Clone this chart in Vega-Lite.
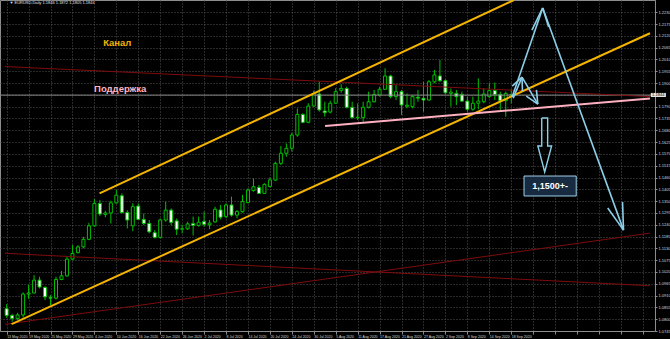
{
  "$schema": "https://vega.github.io/schema/vega-lite/v6.json",
  "width": 655,
  "height": 331,
  "autosize": "none",
  "padding": {"left": 0, "top": 0, "right": 15, "bottom": 8},
  "background": "#000000",
  "config": {
    "view": {"stroke": "#8c8c8c", "strokeWidth": 1},
    "axis": {"labelFont": "Liberation Sans", "title": null, "labelOverlap": false, "labelBound": false, "labelFlush": false,
             "grid": true, "gridColor": "#555555", "gridDash": [1, 2], "gridWidth": 1, "tickCount": 60,
             "domainColor": "#8c8c8c", "tickColor": "#8c8c8c", "labelColor": "#d8d8d8", "labelFontSize": 4},
    "axisX": {"tickSize": 3, "labelAlign": "left", "labelPadding": 0, "labelFontSize": 3.5},
    "axisY": {"tickSize": 2, "labelPadding": 1}
  },
  "datasets": {
    "candles": [
      {"x":0,"o":1.0849,"h":1.0870,"l":1.0806,"c":1.0817},
      {"x":1,"o":1.0817,"h":1.0825,"l":1.0788,"c":1.0803},
      {"x":2,"o":1.0803,"h":1.0830,"l":1.0796,"c":1.0820},
      {"x":3,"o":1.0820,"h":1.0925,"l":1.0808,"c":1.0917},
      {"x":4,"o":1.0917,"h":1.0960,"l":1.0895,"c":1.0922},
      {"x":5,"o":1.0922,"h":1.1005,"l":1.0920,"c":1.0982},
      {"x":6,"o":1.0982,"h":1.0998,"l":1.0943,"c":1.0950},
      {"x":7,"o":1.0948,"h":1.0954,"l":1.0889,"c":1.0904},
      {"x":8,"o":1.0901,"h":1.0912,"l":1.0865,"c":1.0898},
      {"x":9,"o":1.0898,"h":1.0998,"l":1.0892,"c":1.0985},
      {"x":10,"o":1.0985,"h":1.1025,"l":1.0982,"c":1.1002},
      {"x":11,"o":1.1002,"h":1.1094,"l":1.0998,"c":1.1080},
      {"x":12,"o":1.1080,"h":1.1145,"l":1.1075,"c":1.1106},
      {"x":13,"o":1.1110,"h":1.1145,"l":1.1106,"c":1.1137},
      {"x":14,"o":1.1137,"h":1.1184,"l":1.1130,"c":1.1172},
      {"x":15,"o":1.1172,"h":1.1249,"l":1.1168,"c":1.1235},
      {"x":16,"o":1.1235,"h":1.1359,"l":1.1230,"c":1.1339},
      {"x":17,"o":1.1339,"h":1.1355,"l":1.1280,"c":1.1290},
      {"x":18,"o":1.1288,"h":1.1305,"l":1.1275,"c":1.1295},
      {"x":19,"o":1.1295,"h":1.1352,"l":1.1246,"c":1.1342},
      {"x":20,"o":1.1342,"h":1.1401,"l":1.1338,"c":1.1378},
      {"x":21,"o":1.1375,"h":1.1386,"l":1.1292,"c":1.1297},
      {"x":22,"o":1.1297,"h":1.1308,"l":1.1223,"c":1.1262},
      {"x":23,"o":1.1235,"h":1.1340,"l":1.1210,"c":1.1324},
      {"x":24,"o":1.1327,"h":1.1339,"l":1.1262,"c":1.1265},
      {"x":25,"o":1.1265,"h":1.1292,"l":1.1238,"c":1.1246},
      {"x":26,"o":1.1246,"h":1.1262,"l":1.1200,"c":1.1207},
      {"x":27,"o":1.1203,"h":1.1215,"l":1.1176,"c":1.1181},
      {"x":28,"o":1.1181,"h":1.1269,"l":1.1176,"c":1.1262},
      {"x":29,"o":1.1262,"h":1.1347,"l":1.1254,"c":1.1308},
      {"x":30,"o":1.1308,"h":1.1316,"l":1.1238,"c":1.1251},
      {"x":31,"o":1.1258,"h":1.1269,"l":1.1192,"c":1.1219},
      {"x":32,"o":1.1220,"h":1.1240,"l":1.1200,"c":1.1221},
      {"x":33,"o":1.1221,"h":1.1254,"l":1.1216,"c":1.1244},
      {"x":34,"o":1.1245,"h":1.1278,"l":1.1190,"c":1.1237},
      {"x":35,"o":1.1237,"h":1.1278,"l":1.1231,"c":1.1252},
      {"x":36,"o":1.1255,"h":1.1301,"l":1.1231,"c":1.1242},
      {"x":37,"o":1.1240,"h":1.1262,"l":1.1219,"c":1.1248},
      {"x":38,"o":1.1253,"h":1.1324,"l":1.1250,"c":1.1312},
      {"x":39,"o":1.1309,"h":1.1332,"l":1.1265,"c":1.1275},
      {"x":40,"o":1.1278,"h":1.1340,"l":1.1270,"c":1.1332},
      {"x":41,"o":1.1332,"h":1.1371,"l":1.1278,"c":1.1285},
      {"x":42,"o":1.1285,"h":1.1309,"l":1.1270,"c":1.1301},
      {"x":43,"o":1.1301,"h":1.1379,"l":1.1296,"c":1.1348},
      {"x":44,"o":1.1343,"h":1.1410,"l":1.1340,"c":1.1402},
      {"x":45,"o":1.1399,"h":1.1456,"l":1.1394,"c":1.1417},
      {"x":46,"o":1.1414,"h":1.1425,"l":1.1383,"c":1.1386},
      {"x":47,"o":1.1386,"h":1.1433,"l":1.1383,"c":1.1428},
      {"x":48,"o":1.1418,"h":1.1461,"l":1.1414,"c":1.1449},
      {"x":49,"o":1.1448,"h":1.1534,"l":1.1445,"c":1.1526},
      {"x":50,"o":1.1526,"h":1.1607,"l":1.1518,"c":1.1573},
      {"x":51,"o":1.1573,"h":1.1619,"l":1.1557,"c":1.1596},
      {"x":52,"o":1.1596,"h":1.1669,"l":1.1581,"c":1.1658},
      {"x":53,"o":1.1658,"h":1.1782,"l":1.1650,"c":1.1754},
      {"x":54,"o":1.1754,"h":1.1759,"l":1.1713,"c":1.1717},
      {"x":55,"o":1.1717,"h":1.1806,"l":1.1713,"c":1.1793},
      {"x":56,"o":1.1793,"h":1.1865,"l":1.1790,"c":1.1852},
      {"x":57,"o":1.1849,"h":1.1907,"l":1.1767,"c":1.1775},
      {"x":58,"o":1.1770,"h":1.1813,"l":1.1744,"c":1.1762},
      {"x":59,"o":1.1765,"h":1.1818,"l":1.1759,"c":1.1806},
      {"x":60,"o":1.1806,"h":1.1876,"l":1.1803,"c":1.1860},
      {"x":61,"o":1.1866,"h":1.1895,"l":1.1855,"c":1.1875},
      {"x":62,"o":1.1875,"h":1.1883,"l":1.1782,"c":1.1787},
      {"x":63,"o":1.1787,"h":1.1813,"l":1.1736,"c":1.1739},
      {"x":64,"o":1.1738,"h":1.1805,"l":1.1728,"c":1.1741},
      {"x":65,"o":1.1739,"h":1.1813,"l":1.1720,"c":1.1787},
      {"x":66,"o":1.1787,"h":1.1860,"l":1.1782,"c":1.1813},
      {"x":67,"o":1.1813,"h":1.1868,"l":1.1809,"c":1.1847},
      {"x":68,"o":1.1844,"h":1.1883,"l":1.1837,"c":1.1871},
      {"x":69,"o":1.1871,"h":1.1969,"l":1.1868,"c":1.1933},
      {"x":70,"o":1.1933,"h":1.1938,"l":1.1829,"c":1.1837},
      {"x":71,"o":1.1837,"h":1.1891,"l":1.1821,"c":1.1860},
      {"x":72,"o":1.1860,"h":1.1868,"l":1.1751,"c":1.1798},
      {"x":73,"o":1.1792,"h":1.1852,"l":1.1782,"c":1.1797},
      {"x":74,"o":1.1790,"h":1.1844,"l":1.1782,"c":1.1837},
      {"x":75,"o":1.1834,"h":1.1868,"l":1.1813,"c":1.1830},
      {"x":76,"o":1.1829,"h":1.1906,"l":1.1767,"c":1.1821},
      {"x":77,"o":1.1821,"h":1.1914,"l":1.1818,"c":1.1906},
      {"x":78,"o":1.1906,"h":1.1961,"l":1.1899,"c":1.1938},
      {"x":79,"o":1.1933,"h":1.2007,"l":1.1906,"c":1.1911},
      {"x":80,"o":1.1911,"h":1.1917,"l":1.1849,"c":1.1855},
      {"x":81,"o":1.1852,"h":1.1875,"l":1.1790,"c":1.1858},
      {"x":82,"o":1.1852,"h":1.1868,"l":1.1798,"c":1.1837},
      {"x":83,"o":1.1847,"h":1.1860,"l":1.1813,"c":1.1816},
      {"x":84,"o":1.1816,"h":1.1837,"l":1.1767,"c":1.1778},
      {"x":85,"o":1.1778,"h":1.1837,"l":1.1771,"c":1.1806},
      {"x":86,"o":1.1806,"h":1.1922,"l":1.1778,"c":1.1816},
      {"x":87,"o":1.1813,"h":1.1875,"l":1.1806,"c":1.1849},
      {"x":88,"o":1.1837,"h":1.1899,"l":1.1829,"c":1.1865},
      {"x":89,"o":1.1865,"h":1.1902,"l":1.1821,"c":1.1847},
      {"x":90,"o":1.1847,"h":1.1860,"l":1.1774,"c":1.1818},
      {"x":91,"o":1.1818,"h":1.1860,"l":1.1743,"c":1.1852},
      {"x":92,"o":1.1846,"h":1.1872,"l":1.1805,"c":1.1844}
    ],
    "redLines": [
      {"g":"a","x":-0.3,"y":1.1977},{"g":"a","x":117.3,"y":1.1837},
      {"g":"b","x":-0.3,"y":1.1107},{"g":"b","x":117.3,"y":1.0956},
      {"g":"c","x":-0.3,"y":1.0776},{"g":"c","x":117.3,"y":1.1201}
    ],
    "channel": [
      {"g":"upper","x":16.94,"y":1.1386},{"g":"upper","x":92.5,"y":1.2287},
      {"g":"lower","x":0.9,"y":1.0777},{"g":"lower","x":117.3,"y":1.2132}
    ],
    "support": [
      {"g":"s","x":58.06,"y":1.1700},{"g":"s","x":117.3,"y":1.1828}
    ],
    "arrows": [
      {"g":"up","x":92.17,"y":1.1835},{"g":"up","x":97.74,"y":1.2250},
      {"g":"upL","x":95.77,"y":1.2147},{"g":"upL","x":97.74,"y":1.2250},
      {"g":"upR","x":98.82,"y":1.2161},{"g":"upR","x":97.74,"y":1.2250},
      {"g":"down","x":97.74,"y":1.2250},{"g":"down","x":112.47,"y":1.1215},
      {"g":"downL","x":112.29,"y":1.1346},{"g":"downL","x":112.47,"y":1.1215},
      {"g":"downR","x":109.59,"y":1.1318},{"g":"downR","x":112.47,"y":1.1215},
      {"g":"sUp","x":92.36,"y":1.1830},{"g":"sUp","x":93.97,"y":1.1928},
      {"g":"sUpL","x":92.18,"y":1.1886},{"g":"sUpL","x":93.97,"y":1.1928},
      {"g":"sUpR","x":94.04,"y":1.1863},{"g":"sUpR","x":93.97,"y":1.1928},
      {"g":"sDown","x":93.97,"y":1.1928},{"g":"sDown","x":96.85,"y":1.1802},
      {"g":"sDownL","x":96.59,"y":1.1868},{"g":"sDownL","x":96.85,"y":1.1802},
      {"g":"sDownR","x":94.76,"y":1.1839},{"g":"sDownR","x":96.85,"y":1.1802}
    ],
    "block": [
      {"k":1,"x":97.56,"y":1.1737},{"k":2,"x":98.64,"y":1.1737},
      {"k":3,"x":98.64,"y":1.1607},{"k":4,"x":99.36,"y":1.1607},
      {"k":5,"x":98.10,"y":1.1486},{"k":6,"x":96.85,"y":1.1607},
      {"k":7,"x":97.56,"y":1.1607},{"k":8,"x":97.56,"y":1.1737}
    ],
    "box": [{"x":94.33,"x2":103.85,"y":1.1374,"y2":1.1467,"t":"1,1500+-","tx":99.09,"ty":1.1420}],
    "labels": [
      {"x":20.17,"y":1.2089,"t":"Канал","col":"#f2b400"},
      {"x":20.71,"y":1.1872,"t":"Поддержка","col":"#ffb6c1"}
    ],
    "bid": [{"y":1.1844,"x":117.45,"x2":120.2,"y1":1.1835,"y2":1.1854,"tx":118.8,"t":"1.1844"}],
    "header": [{"x":0.5,"y":1.2272,"t":"▼ EURUSD,Daily  1.1846 1.1872 1.1805 1.1844"}]
  },
  "layer": [
    {
      "data": {"name": "candles"},
      "mark": {"type": "rule", "color": "#00c000", "strokeWidth": 1},
      "encoding": {
        "x": {"field": "x", "type": "quantitative",
              "scale": {"domain": [-0.3, 117.3], "nice": false, "zero": false},
              "axis": {
                "values": [0,4,8,12,16,20,24,28,32,36,40,44,48,52,56,60,64,68,72,76,80,84,88,92,96,100,104,108,112,116],
                "labelExpr": "datum.value <= 92 ? ['13 May 2020','19 May 2020','25 May 2020','29 May 2020','4 Jun 2020','10 Jun 2020','16 Jun 2020','22 Jun 2020','26 Jun 2020','2 Jul 2020','8 Jul 2020','14 Jul 2020','20 Jul 2020','24 Jul 2020','30 Jul 2020','5 Aug 2020','11 Aug 2020','17 Aug 2020','21 Aug 2020','27 Aug 2020','2 Sep 2020','8 Sep 2020','14 Sep 2020','18 Sep 2020'][datum.value/4] : ''",
                "labelOverlap": false,
                "tickCount": 60,
                "title": null
              }},
        "y": {"field": "l", "type": "quantitative",
              "scale": {"domain": [1.0745, 1.2287], "nice": false, "zero": false},
              "axis": {
                "orient": "right",
                "values": [1.0745,1.08,1.0855,1.091,1.0965,1.102,1.1075,1.113,1.1185,1.124,1.1295,1.135,1.1405,1.146,1.1515,1.157,1.1625,1.168,1.1735,1.179,1.1845,1.19,1.1955,1.201,1.2065,1.212,1.2175,1.223],
                "format": ".4f",
                "labelExpr": "abs(datum.value - 1.1845) < 0.0001 ? '' : datum.label",
                "labelOverlap": false,
                "tickCount": 60,
                "title": null
              }},
        "y2": {"field": "h"}
      }
    },
    {
      "data": {"name": "candles"},
      "mark": {"type": "bar", "size": 3, "stroke": "#00c000", "strokeWidth": 1},
      "encoding": {
        "x": {"field": "x", "type": "quantitative"},
        "y": {"field": "o", "type": "quantitative"},
        "y2": {"field": "c"},
        "fill": {"condition": {"test": "datum.c >= datum.o", "value": "#000000"}, "value": "#ffffff"}
      }
    },
    {
      "data": {"name": "bid"},
      "mark": {"type": "rule", "color": "#8a8a8a", "strokeWidth": 1},
      "encoding": {
        "y": {"field": "y", "type": "quantitative"}
      }
    },
    {
      "data": {"name": "redLines"},
      "mark": {"type": "line", "color": "#7e0c0c", "strokeWidth": 1, "clip": true},
      "encoding": {
        "x": {"field": "x", "type": "quantitative"},
        "y": {"field": "y", "type": "quantitative"},
        "detail": {"field": "g"}
      }
    },
    {
      "data": {"name": "channel"},
      "mark": {"type": "line", "color": "#f5b400", "strokeWidth": 2, "clip": true},
      "encoding": {
        "x": {"field": "x", "type": "quantitative"},
        "y": {"field": "y", "type": "quantitative"},
        "detail": {"field": "g"}
      }
    },
    {
      "data": {"name": "support"},
      "mark": {"type": "line", "color": "#ffb0c0", "strokeWidth": 2, "clip": true},
      "encoding": {
        "x": {"field": "x", "type": "quantitative"},
        "y": {"field": "y", "type": "quantitative"},
        "detail": {"field": "g"}
      }
    },
    {
      "data": {"name": "arrows"},
      "mark": {"type": "line", "color": "#8ccfe8", "strokeWidth": 1.6, "clip": true},
      "encoding": {
        "x": {"field": "x", "type": "quantitative"},
        "y": {"field": "y", "type": "quantitative"},
        "detail": {"field": "g"}
      }
    },
    {
      "data": {"name": "block"},
      "mark": {"type": "line", "color": "#8ccfe8", "strokeWidth": 1.4},
      "encoding": {
        "x": {"field": "x", "type": "quantitative"},
        "y": {"field": "y", "type": "quantitative"},
        "order": {"field": "k", "type": "quantitative"}
      }
    },
    {
      "data": {"name": "box"},
      "mark": {"type": "rect", "fill": "#172a40", "stroke": "#9fcfe8", "strokeWidth": 1},
      "encoding": {
        "x": {"field": "x", "type": "quantitative"},
        "x2": {"field": "x2"},
        "y": {"field": "y", "type": "quantitative"},
        "y2": {"field": "y2"}
      }
    },
    {
      "data": {"name": "box"},
      "mark": {"type": "text", "color": "#ffffff", "fontSize": 9, "fontWeight": "bold", "font": "Liberation Sans", "align": "center", "baseline": "middle"},
      "encoding": {
        "x": {"field": "tx", "type": "quantitative"},
        "y": {"field": "ty", "type": "quantitative"},
        "text": {"field": "t"}
      }
    },
    {
      "data": {"name": "labels"},
      "mark": {"type": "text", "fontSize": 9.5, "fontWeight": "bold", "font": "Liberation Sans", "align": "center", "baseline": "middle"},
      "encoding": {
        "x": {"field": "x", "type": "quantitative"},
        "y": {"field": "y", "type": "quantitative"},
        "text": {"field": "t"},
        "color": {"field": "col", "type": "nominal", "scale": null}
      }
    },
    {
      "data": {"name": "bid"},
      "mark": {"type": "rect", "fill": "#e6e6e6"},
      "encoding": {
        "x": {"field": "x", "type": "quantitative"},
        "x2": {"field": "x2"},
        "y": {"field": "y1", "type": "quantitative"},
        "y2": {"field": "y2"}
      }
    },
    {
      "data": {"name": "bid"},
      "mark": {"type": "text", "color": "#000000", "fontSize": 4, "font": "Liberation Sans", "align": "center", "baseline": "middle"},
      "encoding": {
        "x": {"field": "tx", "type": "quantitative"},
        "y": {"field": "y", "type": "quantitative"},
        "text": {"field": "t"}
      }
    },
    {
      "data": {"name": "header"},
      "mark": {"type": "text", "color": "#e0e0e0", "fontSize": 4, "font": "Liberation Sans", "align": "left", "baseline": "middle"},
      "encoding": {
        "x": {"field": "x", "type": "quantitative"},
        "y": {"field": "y", "type": "quantitative"},
        "text": {"field": "t"}
      }
    }
  ]
}
